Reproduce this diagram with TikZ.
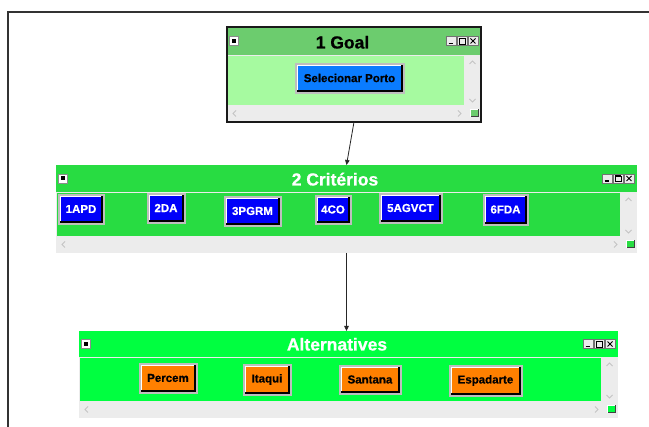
\documentclass[tikz,border=0pt]{standalone}
\usepackage{fontspec}
\setmainfont{Liberation Sans}
\newfontfamily\heavyfont[FakeBold=0.7]{Liberation Sans Bold}
\usetikzlibrary{arrows.meta,fit,calc}

\definecolor{goalbar}{RGB}{108,204,110}
\definecolor{goalbody}{RGB}{166,250,160}
\definecolor{critgreen}{RGB}{40,220,66}
\definecolor{altgreen}{RGB}{0,255,64}
\definecolor{scrollgray}{RGB}{236,236,236}
\definecolor{chevgray}{RGB}{196,196,196}
\definecolor{btnframe}{RGB}{190,190,190}
\definecolor{azure}{RGB}{10,124,255}
\definecolor{critblue}{RGB}{0,0,250}
\definecolor{altorange}{RGB}{255,128,0}

\tikzset{
  winframe/.style={inner sep=0pt, outer sep=0pt, fill=scrollgray, draw=none},
  titletext/.style={font=\heavyfont\fontsize{17.5}{20}\selectfont, inner sep=0pt, anchor=base},
  btnface/.style={inner sep=0pt, outer sep=0pt},
  btnlabel/.style={inner sep=0pt, font=\heavyfont\fontsize{11.5}{14}\selectfont},
  sysbox/.style={fill=white, draw=black!45, line width=0.6pt, minimum size=9pt, inner sep=0pt,
    path picture={\fill[black] ([shift={(-2pt,-2pt)}]path picture bounding box.center)
      rectangle ([shift={(2pt,2pt)}]path picture bounding box.center);}},
  chevron/.style={draw=chevgray, line width=0.8pt},
  ctlbox/.style={fill=scrollgray, draw=black!55, line width=0.6pt},
  ctlmark/.style={draw=black, line width=0.9pt},
  conn/.style={draw=black!85, line width=0.8pt, -{Triangle[length=5pt,width=4.5pt]}},
}

% a raised push button: name, outer box x1 y1 x2 y2, face colour, text colour, label
\newcommand\pushbutton[8]{%
  \fill[btnframe] (#2,#3) rectangle (#4,#5);
  \node[btnface, fill=#6, fit={(#2+2,#3+2) (#4-2,#5-2)}] (#1) {};
  \draw[white, line width=1pt] ([xshift=0.5pt]#1.south west) -- ([xshift=0.5pt,yshift=-0.5pt]#1.north west) -- ([yshift=-0.5pt]#1.north east);
  \draw[black, line width=2pt] ([xshift=-1pt]#1.north east) -- ([xshift=-1pt,yshift=1pt]#1.south east) -- ([yshift=1pt]#1.south west);
  \node[btnlabel, text=#7] (#1-label) at ([xshift=-0.5pt,yshift=0.5pt]#1.center) {#8};
}

% an application window: name, x1 y1 x2 y2, title-bar bottom, bar colour, client colour, title
\newcommand\appwindow[9]{%
  \node[winframe, fit={(#2,#3) (#4,#5)}] (#1) {};
  \fill[#7] (#2,#3) rectangle (#4,#6);
  \fill[#8] ({#2+1},{#6+1}) rectangle ({#4-17},{#5-17});
  \node[titletext] (#1-title) at ({(#2+#4)/2-11.5},{#6-6.5}) {#9};
  \node[sysbox] (#1-menu) at ({#2+6.5},{(#3+#6)/2}) {};
  % minimise / maximise / close
  \begin{scope}[shift={({#4-35},{(#3+#6)/2})}]
    \draw[ctlbox] (0,-4.5) rectangle (10,4.5);
    \draw[ctlbox] (11,-4.5) rectangle (21,4.5);
    \draw[ctlbox] (22,-4.5) rectangle (32,4.5);
    \draw[ctlmark, line width=1.4pt] (2.5,2.5) -- (6.5,2.5);
    \draw[ctlmark, line width=0.7pt] (13,-2.5) rectangle (19,3);
    \draw[ctlmark, line width=1.2pt] (13,-2.5) -- (19,-2.5);
    \draw[ctlmark, line width=0.8pt] (24.5,-2.5) -- (29.5,2.5) (24.5,2.5) -- (29.5,-2.5);
  \end{scope}
  % scroll bar chevrons
  \draw[chevron] ({#4-11.5},{#6+9}) -- ({#4-8.5},{#6+6}) -- ({#4-5.5},{#6+9});
  \draw[chevron] ({#4-11.5},{#5-23}) -- ({#4-8.5},{#5-20}) -- ({#4-5.5},{#5-23});
  \draw[chevron] ({#2+9},{#5-11.5}) -- ({#2+6},{#5-8.5}) -- ({#2+9},{#5-5.5});
  \draw[chevron] ({#4-23},{#5-11.5}) -- ({#4-20},{#5-8.5}) -- ({#4-23},{#5-5.5});
  % size grip
  \fill[#7] ({#4-10.5},{#5-12.5}) rectangle ({#4-2.5},{#5-4.5});
  \draw[black!75, line width=1pt] ({#4-10.5},{#5-5}) -- ({#4-3},{#5-5}) -- ({#4-3},{#5-12.5});
  \draw[white, line width=0.6pt] ({#4-10.5},{#5-5}) -- ({#4-10.5},{#5-12.5}) -- ({#4-3},{#5-12.5});
}

\begin{document}
\begin{tikzpicture}[x=1pt, y=-1pt]
\useasboundingbox (0,0) rectangle (649,427);
\fill[white] (0,0) rectangle (649,427);

% outer canvas frame
\draw[black!80, line width=1.5pt] (8,427) -- (8,12) -- (649,12);

% goal window
\appwindow{goal}{227}{27}{481}{122}{55}{goalbar}{goalbody}{1 Goal}
\draw[black!90, line width=2pt] (goal.north west) rectangle (goal.south east);
\pushbutton{selporto}{295}{63}{405}{94}{azure}{black}{Selecionar Porto}

% criteria window
\appwindow{crit}{56}{165}{637}{253}{192}{critgreen}{critgreen}{\color{white}2 Critérios}
\pushbutton{apd}{58}{194}{105}{225}{critblue}{white}{1APD}
\pushbutton{da}{147}{193}{186}{224}{critblue}{white}{2DA}
\pushbutton{pgrm}{224}{196}{282}{227}{critblue}{white}{3PGRM}
\pushbutton{co}{315}{195}{352}{225}{critblue}{white}{4CO}
\pushbutton{agvct}{379}{193}{443}{224}{critblue}{white}{5AGVCT}
\pushbutton{fda}{483}{194}{529}{226}{critblue}{white}{6FDA}

% alternatives window
\appwindow{alts}{79}{331}{618}{418}{357}{altgreen}{altgreen}{\color{white}Alternatives}
\pushbutton{percem}{139}{363}{198}{394}{altorange}{black}{Percem}
\pushbutton{itaqui}{243}{364}{292}{396}{altorange}{black}{Itaqui}
\pushbutton{santana}{339}{365}{402}{395}{altorange}{black}{Santana}
\pushbutton{espadarte}{449}{365}{523}{397}{altorange}{black}{Espadarte}

% hierarchy links
\draw[conn] (goal.south) -- (crit.north);
\draw[conn] (crit.south) -- (crit.south |- alts.north);
\end{tikzpicture}
\end{document}
